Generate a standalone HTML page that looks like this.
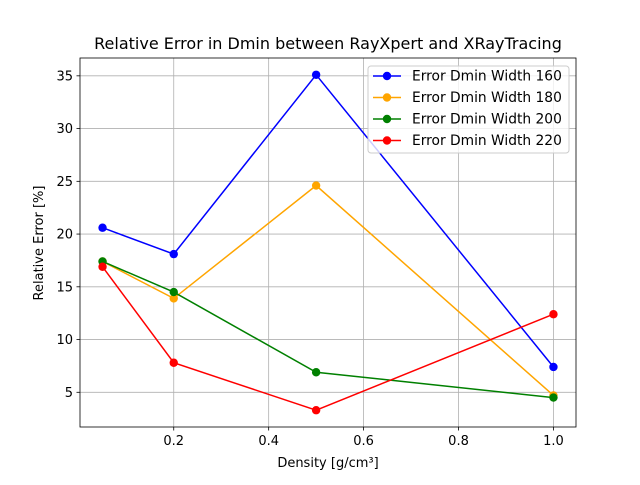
<!DOCTYPE html>
<html><head><meta charset="utf-8"><style>
body{margin:0;background:#fff;font-family:"Liberation Sans","DejaVu Sans",sans-serif}
svg text{font-family:"DejaVu Sans","Liberation Sans",sans-serif}
</style></head><body>
<svg id="chart" width="640" height="480" xmlns="http://www.w3.org/2000/svg">
<rect width="640" height="480" fill="#fff"/>
<g id="grid"></g>
<g id="axes"></g>
<g id="series"></g>
<text x="328" y="49" font-size="16" text-anchor="middle">Relative Error in Dmin between RayXpert and XRayTracing</text>
<text x="328" y="467" font-size="13" text-anchor="middle">Density [g/cm³]</text>
<text transform="translate(43,243) rotate(-90)" font-size="13" text-anchor="middle">Relative Error [%]</text>
<g id="legend"></g>
</svg>
<script>
const densities=[0.05,0.2,0.5,1.0];
const w160=[20.6,18.1,35.1,7.4];
const w180=[17.4,13.9,24.6,4.7];
const w200=[17.4,14.5,6.9,4.5];
const w220=[16.9,7.8,3.3,12.4];
const seriesNames=["Error Dmin Width 160","Error Dmin Width 180","Error Dmin Width 200","Error Dmin Width 220"];
const xTicks=[0.2,0.4,0.6,0.8,1.0];
const xTickLabels=["0.2","0.4","0.6","0.8","1.0"];
const yTicks=[5,10,15,20,25,30,35];
const yTickLabels=["5","10","15","20","25","30","35"];
const colors=["#0000ff","#ffa500","#008000","#ff0000"];
const all=[w160,w180,w200,w220];
const L=80,R=576,T=58,B=427;
const xmin=Math.min(...densities),xmax=Math.max(...densities),xm=(xmax-xmin)*0.05;
const flat=all.flat(),ymin0=Math.min(...flat),ymax0=Math.max(...flat),ym=(ymax0-ymin0)*0.05;
const X=v=>L+(v-(xmin-xm))/((xmax+xm)-(xmin-xm))*(R-L);
const Y=v=>B-(v-(ymin0-ym))/((ymax0+ym)-(ymin0-ym))*(B-T);
const NS="http://www.w3.org/2000/svg";
function mk(tag,attrs,parent){const e=document.createElementNS(NS,tag);for(const k in attrs)e.setAttribute(k,attrs[k]);parent.appendChild(e);return e;}
const grid=document.getElementById('grid'),axes=document.getElementById('axes'),ser=document.getElementById('series'),leg=document.getElementById('legend');
xTicks.forEach((t,i)=>{const x=X(t);
 const g=mk('line',{x1:x,x2:x,y1:T,y2:B,stroke:'#b0b0b0','stroke-width':0.8},grid);
 
 
 const tk=mk('line',{x1:x,x2:x,y1:B,y2:B+3.5,stroke:'#000','stroke-width':0.8},axes);
 
 
 const tx=mk('text',{x:x,y:B+18,'font-size':13,'text-anchor':'middle'},axes);tx.textContent=xTickLabels[i];
 
 
});
yTicks.forEach((t,i)=>{const y=Y(t);
 const g=mk('line',{x1:L,x2:R,y1:y,y2:y,stroke:'#b0b0b0','stroke-width':0.8},grid);
 
 
 const tk=mk('line',{x1:L-3.5,x2:L,y1:y,y2:y,stroke:'#000','stroke-width':0.8},axes);
 
 
 const tx=mk('text',{x:L-7,y:y+4.5,'font-size':13,'text-anchor':'end'},axes);tx.textContent=yTickLabels[i];
 
 
});
const fr=mk('rect',{x:L,y:T,width:R-L,height:B-T,fill:'none',stroke:'#000','stroke-width':0.8},axes);


all.forEach((s,si)=>{
 const pl=mk('polyline',{points:s.map((v,i)=>X(densities[i])+','+Y(v)).join(' '),fill:'none',stroke:colors[si],'stroke-width':1.5},ser);
 
 
 s.forEach((v,i)=>{const c=mk('circle',{cx:X(densities[i]),cy:Y(v),r:4.2,fill:colors[si]},ser);
  
  });
});
const lb=mk('rect',{x:368,y:66,width:201,height:87,rx:3,fill:'#fff','fill-opacity':0.8,stroke:'#ccc'},leg);


seriesNames.forEach((n,i)=>{const y=76+i*21.5;
 const g=mk('g',{},leg);
 
 
 mk('line',{x1:373,x2:401,y1:y,y2:y,stroke:colors[i],'stroke-width':1.5},g);
 mk('circle',{cx:387,cy:y,r:4.2,fill:colors[i]},g);
 const t=mk('text',{x:412,y:y+4.5,'font-size':13.8},g);t.textContent=n;
});
</script>
</body></html>
